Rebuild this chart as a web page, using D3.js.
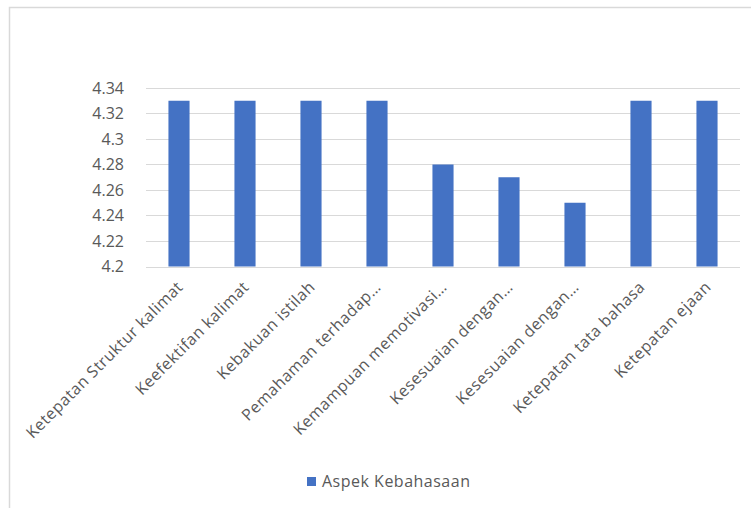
<!DOCTYPE html>
<html>
<head>
<meta charset="utf-8">
<script src="https://cdn.jsdelivr.net/npm/d3@7"></script>
<style>
  body { margin: 0; background: #fff; }
  text { font-family: "Open Sans", "Liberation Sans", sans-serif; fill: #595959; }
</style>
</head>
<body>
<div id="chart"></div>
<script>
// data
const categories = [
  "Ketepatan Struktur kalimat",
  "Keefektifan kalimat",
  "Kebakuan istilah",
  "Pemahaman terhadap…",
  "Kemampuan memotivasi…",
  "Kesesuaian dengan…",
  "Kesesuaian dengan…",
  "Ketepatan tata bahasa",
  "Ketepatan ejaan"
];
const values = [4.33, 4.33, 4.33, 4.33, 4.28, 4.27, 4.25, 4.33, 4.33];
const yTicks = [4.2, 4.22, 4.24, 4.26, 4.28, 4.3, 4.32, 4.34];
const seriesName = "Aspek Kebahasaan";

const width = 751, height = 508;
const margin = {top: 88, right: 11, bottom: 242, left: 146};

const svg = d3.select("#chart").append("svg")
  .attr("width", width)
  .attr("height", height);

// chart area border (left + top only visible)
svg.append("path")
  .attr("d", `M9.5,${height} V7.5 H${width}`)
  .attr("fill", "none")
  .attr("stroke", "#d9d9d9")
  .attr("stroke-width", 1.5);

const x = d3.scaleBand()
  .domain(d3.range(categories.length))
  .range([margin.left, width - margin.right])
  .paddingInner(0.68)
  .paddingOuter(0.34);

const y = d3.scaleLinear()
  .domain([4.2, 4.34])
  .range([height - margin.bottom + 0.5, margin.top]);

// gridlines
svg.append("g")
  .selectAll("line")
  .data(yTicks)
  .join("line")
  .attr("x1", margin.left)
  .attr("x2", width - margin.right)
  .attr("y1", d => Math.round(y(d)) + 0.5)
  .attr("y2", d => Math.round(y(d)) + 0.5)
  .attr("stroke", "#d9d9d9")
  .attr("stroke-width", 1.2);

// y axis labels
const yAxis = svg.append("g")
  .attr("transform", `translate(${margin.left - 19},0)`)
  .call(d3.axisLeft(y).tickValues(yTicks).tickFormat(d3.format("")).tickSize(0));
yAxis.select(".domain").remove();
yAxis.attr("font-family", null).attr("font-size", null);
yAxis.selectAll("text")
  .attr("font-size", 16)
  .attr("fill", "#595959");

// bars
svg.append("g")
  .selectAll("rect")
  .data(values)
  .join("rect")
  .attr("x", (d, i) => x(i))
  .attr("y", d => y(d))
  .attr("width", x.bandwidth())
  .attr("height", d => y(4.2) - y(d))
  .attr("fill", "#4472c4");

// x labels, rotated
svg.append("g")
  .selectAll("text")
  .data(categories)
  .join("text")
  .attr("transform", (d, i) => `translate(${x(i) + x.bandwidth() / 2 + 5},288) rotate(-45)`)
  .attr("text-anchor", "end")
  .attr("font-size", 16)
  .attr("letter-spacing", 0.5)
  .text(d => d);

// legend
const legend = svg.append("g").attr("transform", "translate(307,477)");
legend.append("rect")
  .attr("width", 9).attr("height", 9)
  .attr("fill", "#4472c4");
legend.append("text")
  .attr("x", 15).attr("y", 10)
  .attr("font-size", 16)
  .attr("letter-spacing", 0.5)
  .text(seriesName);
</script>
</body>
</html>
